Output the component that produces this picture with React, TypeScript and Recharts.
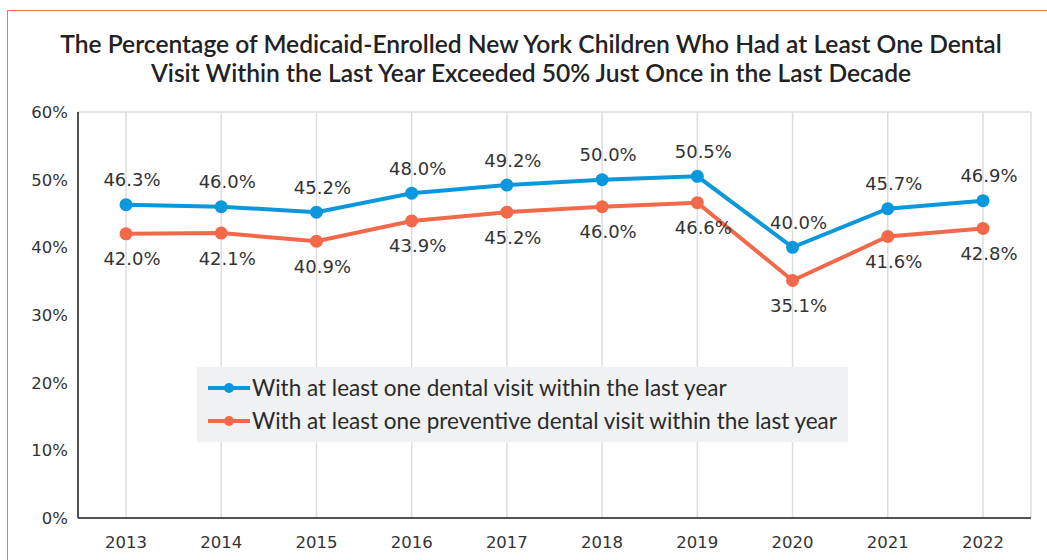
import React from 'react'
import { LineChart, Line, XAxis, YAxis, CartesianGrid, LabelList } from 'recharts'

const years = ['2013', '2014', '2015', '2016', '2017', '2018', '2019', '2020', '2021', '2022']
const anyVisit = [46.3, 46.0, 45.2, 48.0, 49.2, 50.0, 50.5, 40.0, 45.7, 46.9]
const preventiveVisit = [42.0, 42.1, 40.9, 43.9, 45.2, 46.0, 46.6, 35.1, 41.6, 42.8]
const yTicks = [0, 10, 20, 30, 40, 50, 60]

const BLUE = '#0a97dc'
const ORANGE = '#f2694a'

const data = years.map((year, i) => ({
  year,
  any: anyVisit[i],
  preventive: preventiveVisit[i],
}))

const seriesNames = [
  { key: 'any', name: 'With at least one dental visit within the last year', color: BLUE },
  { key: 'preventive', name: 'With at least one preventive dental visit within the last year', color: ORANGE },
]

function makeLabel(above: boolean) {
  return (props: any) => {
    const { x, y, value } = props
    return (
      <text
        x={x + 6}
        y={above ? y - 25 : y + 25}
        textAnchor="middle"
        dominantBaseline="central"
        fill="#333"
        fontSize={18}
        fontFamily="DejaVu Sans"
      >
        {Number(value).toFixed(1)}%
      </text>
    )
  }
}

function LegendBox() {
  return (
    <div
      style={{
        position: 'absolute',
        left: 197,
        top: 367,
        background: '#f0f1f3',
        width: 651,
        height: 75,
        paddingTop: 4,
        boxSizing: 'border-box',
      }}
    >
      {seriesNames.map((s) => (
        <div key={s.key} style={{ display: 'flex', alignItems: 'center', height: 33, paddingLeft: 11 }}>
          <svg width={42} height={12}>
            <line x1={0} y1={6} x2={42} y2={6} stroke={s.color} strokeWidth={4} />
            <circle cx={21} cy={6} r={5} fill={s.color} />
          </svg>
          <span style={{ fontFamily: 'Lato', fontSize: 22.5, color: '#2a2a2a', marginLeft: 2 }}>{s.name}</span>
        </div>
      ))}
    </div>
  )
}

export default function App() {
  return (
    <div style={{ position: 'absolute', left: 0, top: 0, width: 1047, height: 560, background: '#fff', overflow: 'hidden' }}>
      <div
        style={{
          position: 'absolute',
          left: 7,
          top: 10,
          width: 1100,
          height: 600,
          border: '1.5px solid #f0764f',
        }}
      />
      <div
        style={{
          position: 'absolute',
          left: 0,
          top: 29,
          width: 1062,
          textAlign: 'center',
          fontFamily: 'Lato',
          fontWeight: 600,
          fontSize: 24.6,
          lineHeight: '29px',
          color: '#222',
        }}
      >
        The Percentage of Medicaid-Enrolled New York Children Who Had at Least One Dental
        <br />
        Visit Within the Last Year Exceeded 50% Just Once in the Last Decade
      </div>
      <div style={{ position: 'absolute', left: 0, top: 0 }}>
        <LineChart width={1047} height={560} data={data} margin={{ top: 112, right: 16, bottom: 12, left: 18 }}>
          <CartesianGrid stroke="#dddddd" strokeWidth={1.5} />
          <XAxis
            dataKey="year"
            padding={{ left: 48, right: 48 }}
            axisLine={{ stroke: '#222', strokeWidth: 1.5 }}
            tickLine={false}
            tickMargin={12}
            height={30}
            tick={{ fill: '#333', fontSize: 16.5, fontFamily: 'DejaVu Sans' }}
          />
          <YAxis
            yAxisId="left"
            domain={[0, 60]}
            ticks={yTicks}
            width={60}
            tickFormatter={(v) => `${v}%`}
            axisLine={{ stroke: '#222', strokeWidth: 1.5 }}
            tickLine={false}
            tickMargin={4}
            tick={{ fill: '#333', fontSize: 16.5, fontFamily: 'DejaVu Sans' }}
          />
          <YAxis
            yAxisId="right"
            orientation="right"
            domain={[0, 60]}
            width={0}
            tick={false}
            tickLine={false}
            axisLine={{ stroke: '#dddddd', strokeWidth: 1.5 }}
          />
          <Line
            yAxisId="left"
            dataKey="any"
            name={seriesNames[0].name}
            stroke={BLUE}
            strokeWidth={4}
            dot={{ r: 6.5, fill: BLUE, stroke: BLUE, strokeWidth: 0 }}
            isAnimationActive={false}
          >
            <LabelList dataKey="any" content={makeLabel(true)} />
          </Line>
          <Line
            yAxisId="left"
            dataKey="preventive"
            name={seriesNames[1].name}
            stroke={ORANGE}
            strokeWidth={4}
            dot={{ r: 6.5, fill: ORANGE, stroke: ORANGE, strokeWidth: 0 }}
            isAnimationActive={false}
          >
            <LabelList dataKey="preventive" content={makeLabel(false)} />
          </Line>
        </LineChart>
      </div>
      <LegendBox />
    </div>
  )
}
